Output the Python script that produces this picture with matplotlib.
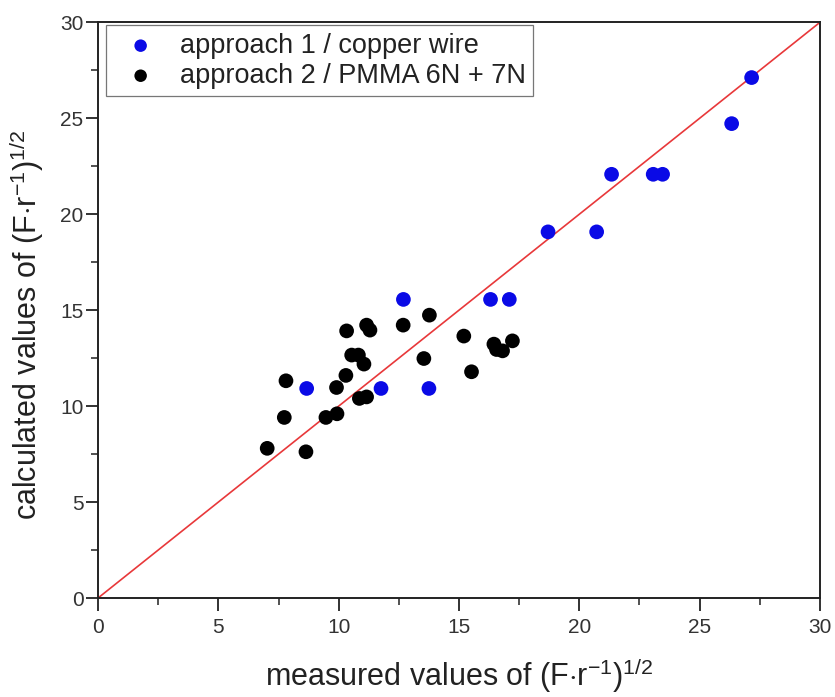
import numpy as np
import matplotlib
matplotlib.use("Agg")
import matplotlib.pyplot as plt
from matplotlib.ticker import MultipleLocator

plt.rcParams["font.family"] = ["Liberation Sans", "DejaVu Sans"]
plt.rcParams["mathtext.fontset"] = "custom"
plt.rcParams["mathtext.rm"] = "Liberation Sans"
plt.rcParams["mathtext.it"] = "Liberation Sans:italic"
plt.rcParams["mathtext.default"] = "rm"

# approach 1 / copper wire
x_cu = [8.67, 11.76, 13.75, 12.69, 16.31, 17.09, 18.70, 20.72, 21.34, 23.07, 23.46, 26.33, 27.16]
y_cu = [10.92, 10.92, 10.92, 15.56, 15.56, 15.56, 19.08, 19.08, 22.08, 22.08, 22.08, 24.72, 27.12]

# approach 2 / PMMA 6N + 7N
x_pm = [7.03, 8.64, 7.74, 9.47, 9.93, 7.81, 9.91, 10.30, 10.86, 11.16, 11.05, 10.54, 10.82,
        10.33, 11.16, 11.30, 12.68, 13.77, 13.54, 15.20, 15.52, 16.45, 16.56, 16.81, 17.22]
y_pm = [7.80, 7.62, 9.41, 9.41, 9.60, 11.32, 10.97, 11.60, 10.40, 10.48, 12.19, 12.66, 12.66,
        13.92, 14.22, 13.96, 14.22, 14.74, 12.48, 13.65, 11.79, 13.23, 12.95, 12.88, 13.40]

diag = [0, 30]

fig = plt.figure(figsize=(8.35, 6.97), dpi=100)
ax = fig.add_axes([0.1174, 0.142, 0.8646, 0.826])

ax.plot(diag, diag, color="#e8383a", linewidth=1.2, zorder=1)
ax.scatter(x_cu, y_cu, s=112, color="#0a0ae6", edgecolors="none", zorder=3,
           label="approach 1 / copper wire")
ax.scatter(x_pm, y_pm, s=112, color="black", edgecolors="none", zorder=2,
           label="approach 2 / PMMA 6N + 7N")

ax.set_xlim(0, 30)
ax.set_ylim(0, 30)
ax.xaxis.set_major_locator(MultipleLocator(5))
ax.yaxis.set_major_locator(MultipleLocator(5))
ax.xaxis.set_minor_locator(MultipleLocator(2.5))
ax.yaxis.set_minor_locator(MultipleLocator(2.5))
ax.tick_params(which="major", direction="out", length=9, width=1.3, labelsize=15,
               colors="#222222", labelcolor="#333333", top=False, right=False)
ax.tick_params(which="minor", direction="out", length=5, width=1.1,
               colors="#222222", top=False, right=False)
ax.tick_params(axis="x", which="major", pad=5.5)
ax.tick_params(axis="y", which="major", pad=1.5)
for sp in ax.spines.values():
    sp.set_linewidth(1.4)
    sp.set_color("#222222")

ax.set_xlabel(r"measured values of (F$\cdot$r$^{-1}$)$^{1/2}$", fontsize=22,
              color="#222222", va="top")
ax.xaxis.set_label_coords(0.5, -0.1)
ax.set_ylabel(r"calculated values of (F$\cdot$r$^{-1}$)$^{1/2}$", fontsize=22,
              color="#222222")
ax.yaxis.set_label_coords(-0.072, 0.475)

leg = ax.legend(loc="upper left", bbox_to_anchor=(0.011, 0.995), fontsize=19.5,
                frameon=True, fancybox=False, edgecolor="#555555", borderpad=0.28,
                handletextpad=0.45, borderaxespad=0, labelspacing=0.15,
                markerscale=0.85)
leg.get_frame().set_linewidth(0.9)
for t in leg.get_texts():
    t.set_color("#222222")

fig.savefig("out.png", dpi=100)
